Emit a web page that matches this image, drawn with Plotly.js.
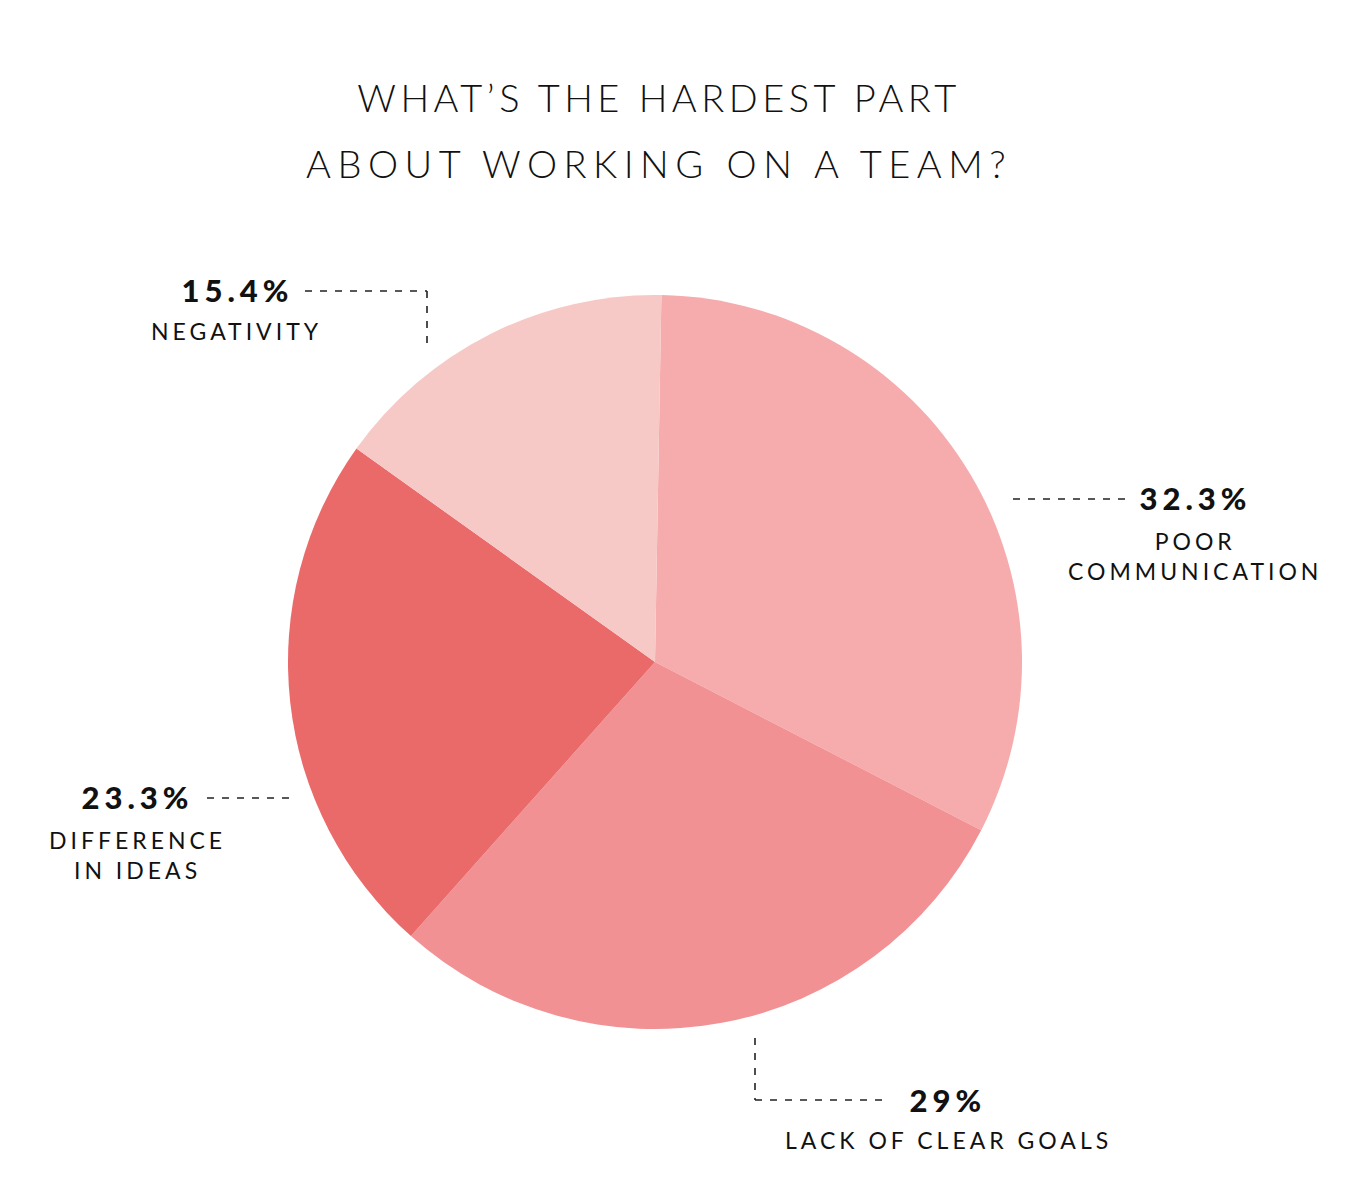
<!DOCTYPE html>
<html>
<head>
<meta charset="utf-8">
<script src="https://cdn.plot.ly/plotly-3.0.1.min.js"></script>
<style>
  body { margin: 0; background: #fff; }
  #chart { width: 1364px; height: 1192px; }
  .annotation text { letter-spacing: 4px; }
  .annotation[data-index="0"] text { letter-spacing: 4.5px; }
  .annotation[data-index="1"] text { letter-spacing: 6.5px; }
  .annotation[data-index="2"] text, .annotation[data-index="4"] text,
  .annotation[data-index="6"] text, .annotation[data-index="8"] text { letter-spacing: 5px; }
</style>
</head>
<body>
<div id="chart"></div>
<script>
// survey answers, clockwise from 12 o'clock
var categories = ['Poor Communication', 'Lack of Clear Goals', 'Difference in Ideas', 'Negativity'];
var shares = [32.3, 29, 23.3, 15.4];
var labelLines = ['POOR<br>COMMUNICATION', 'LACK OF CLEAR GOALS', 'DIFFERENCE<br>IN IDEAS', 'NEGATIVITY'];
var sliceColors = ['#F6ABAD', '#F19193', '#EA6A6A', '#F7C9C6'];

var W = 1364, H = 1192;
var px = function (x) { return x / W; };
var py = function (y) { return 1 - y / H; };

// label anchor points (pixel centre of each label block)
var labelPos = [
    {x: 1195, pct: 498, name: 556},
    {x: 948, pct: 1100, name: 1140},
    {x: 137, pct: 797, name: 855},
    {x: 237, pct: 290, name: 331}
];

var annotations = [
    {text: 'WHAT\u2019S THE HARDEST PART', y: py(97)},
    {text: 'ABOUT WORKING ON A TEAM?', y: py(163)}
].map(function (a) {
    return {
        text: a.text, xref: 'paper', yref: 'paper', x: px(659), y: a.y,
        xanchor: 'center', yanchor: 'middle', showarrow: false,
        font: {family: 'Lato, sans-serif', size: 38, color: '#111', weight: 300}
    };
});

categories.forEach(function (c, i) {
    var p = labelPos[i];
    annotations.push({
        text: shares[i] + '%', xref: 'paper', yref: 'paper',
        x: px(p.x), y: py(p.pct), xanchor: 'center', yanchor: 'middle', showarrow: false,
        font: {family: 'Lato, sans-serif', size: 31, color: '#111', weight: 900}
    });
    annotations.push({
        text: labelLines[i], xref: 'paper', yref: 'paper',
        x: px(p.x), y: py(p.name), xanchor: 'center', yanchor: 'middle', showarrow: false,
        align: 'center',
        font: {family: 'Lato, sans-serif', size: 23, color: '#111', weight: 400}
    });
});

// dashed leader lines
var leaders = [
    [1013, 499, 1125, 499],
    [755, 1038, 755, 1100], [755, 1100, 888, 1100],
    [207, 798, 296, 798],
    [305, 291, 427, 291], [427, 291, 427, 350]
];
var shapes = leaders.map(function (l) {
    return {
        type: 'line', xref: 'paper', yref: 'paper',
        x0: px(l[0]), y0: py(l[1]), x1: px(l[2]), y1: py(l[3]),
        line: {color: '#222', width: 1.6, dash: '7px,8px'}
    };
});

var data = [{
    type: 'pie',
    labels: categories,
    values: shares,
    sort: false,
    direction: 'clockwise',
    rotation: 1,
    textinfo: 'none',
    hoverinfo: 'none',
    marker: {colors: sliceColors, line: {width: 0}},
    domain: {x: [px(288), px(1022)], y: [py(1029), py(295)]},
    showlegend: false
}];

var layout = {
    width: W, height: H,
    margin: {l: 0, r: 0, t: 0, b: 0},
    paper_bgcolor: '#fff',
    showlegend: false,
    annotations: annotations,
    shapes: shapes
};

Plotly.newPlot('chart', data, layout, {staticPlot: true});
</script>
</body>
</html>
